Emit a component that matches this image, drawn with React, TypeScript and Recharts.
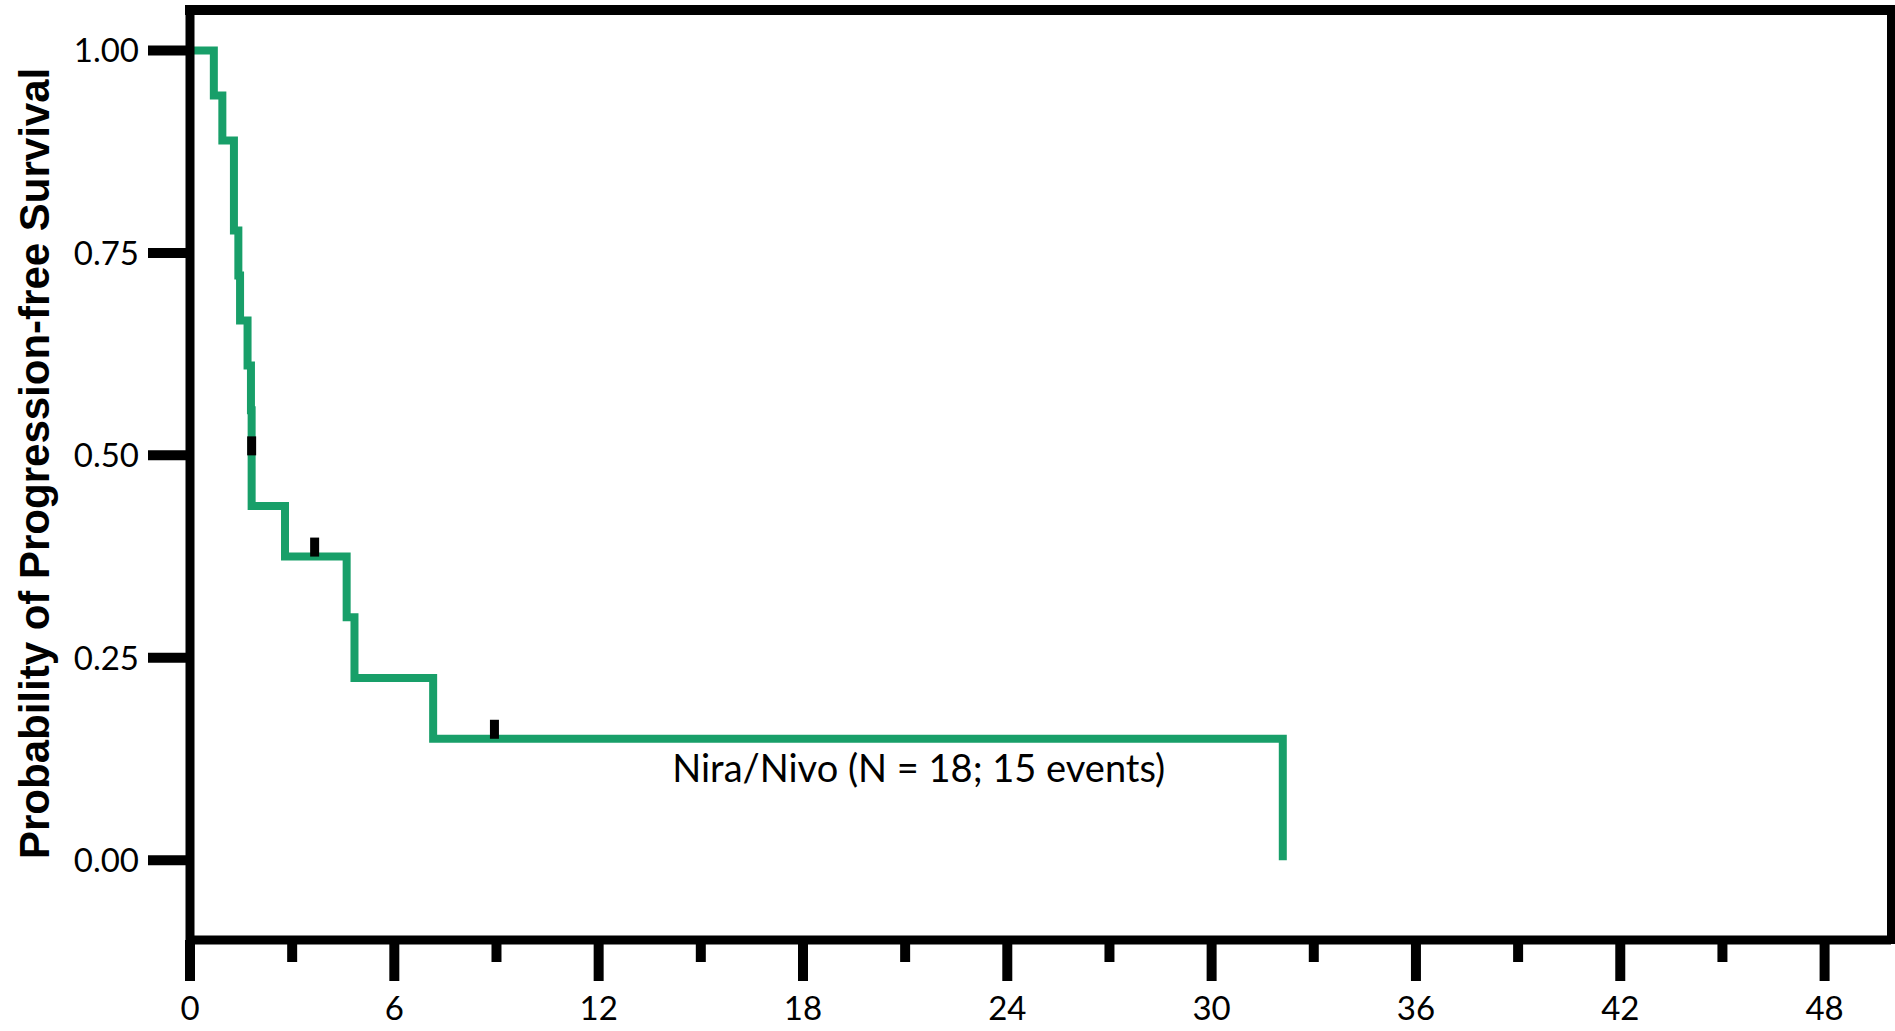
import {
  ComposedChart,
  Line,
  Scatter,
  XAxis,
  YAxis,
  ReferenceLine,
  ReferenceDot,
  Label,
} from 'recharts';

// Kaplan-Meier steps (months, survival probability)
const kmTimes = [0, 0.7, 0.95, 1.29, 1.42, 1.47, 1.69, 1.79, 1.81, 1.81, 2.79, 4.6, 4.83, 7.14, 32.09];
const kmSurvival = [1, 0.9444, 0.8889, 0.7778, 0.7222, 0.6667, 0.6111, 0.5556, 0.5, 0.4375, 0.375, 0.3, 0.225, 0.15, 0];

// censored observations
const censorTimes = [1.81, 3.66, 8.94];
const censorSurvival = [0.5, 0.375, 0.15];

const xTicks = [0, 3, 6, 9, 12, 15, 18, 21, 24, 27, 30, 33, 36, 39, 42, 45, 48];
const yTicks = [0, 0.25, 0.5, 0.75, 1];

const curveLabel = 'Nira/Nivo (N = 18; 15 events)';
const yTitle = 'Probability of Progression-free Survival';

const kmData = kmTimes.map((t, i) => ({ t, s: kmSurvival[i] }));
const censorData = censorTimes.map((t, i) => ({ t, s: censorSurvival[i] }));

const GREEN = '#189f69';
const BODY_FONT = 'Lato, "Open Sans", sans-serif';
const TITLE_FONT = '"Liberation Sans", Arial, sans-serif';

function XTick(props: any) {
  const { x, y, payload } = props;
  const major = payload.value % 6 === 0;
  return (
    <g>
      <line x1={x} x2={x} y1={y} y2={y + (major ? 41 : 22)} stroke="#000" strokeWidth={10} />
      {major && (
        <text x={x} y={y + 80} textAnchor="middle" fontFamily={BODY_FONT} fontSize={33} fill="#000">
          {payload.value}
        </text>
      )}
    </g>
  );
}

function CensorMark(props: any) {
  const { cx, cy } = props;
  if (cx == null || cy == null) return null;
  return <rect x={cx - 4.5} y={cy - 19} width={9} height={19} fill="#000" />;
}

function YTitle(props: any) {
  const vb = props.viewBox || { x: 0, y: 10, width: 190, height: 930 };
  const cx = vb.x + 49;
  const cy = vb.y + vb.height / 2 - 11.6;
  return (
    <text
      x={cx}
      y={cy}
      transform={`rotate(-90 ${cx} ${cy})`}
      textAnchor="middle"
      fontFamily={TITLE_FONT}
      fontWeight="bold"
      fontSize={42}
      fill="#000"
    >
      {yTitle}
    </text>
  );
}

export default function App() {
  return (
    <div style={{ position: 'absolute', left: 0, top: 0, background: '#fff' }}>
      <ComposedChart width={1895} height={1031} margin={{ top: 10, right: 4, bottom: 0, left: 0 }}>
        <XAxis
          dataKey="t"
          type="number"
          domain={[0, 49.95]}
          ticks={xTicks}
          interval={0}
          allowDataOverflow
          height={91}
          tickSize={0}
          tickMargin={0}
          tickLine={false}
          tick={<XTick />}
          axisLine={{ stroke: '#000', strokeWidth: 9 }}
        />
        <YAxis
          type="number"
          domain={[-0.0985, 1.05]}
          ticks={yTicks}
          interval={0}
          allowDataOverflow
          width={190}
          tickSize={42}
          tickMargin={9}
          tickFormatter={(v: number) => v.toFixed(2)}
          tick={{ fill: '#000', fontSize: 33, fontFamily: BODY_FONT }}
          tickLine={{ stroke: '#000', strokeWidth: 10 }}
          axisLine={{ stroke: '#000', strokeWidth: 9 }}
        >
          <Label content={<YTitle />} />
        </YAxis>
        <ReferenceLine y={1.05} stroke="#000" strokeWidth={10} strokeLinecap="square" />
        <ReferenceLine x={49.95} stroke="#000" strokeWidth={8} strokeLinecap="square" />
        <Line
          data={kmData}
          dataKey="s"
          type="stepAfter"
          stroke={GREEN}
          strokeWidth={8}
          dot={false}
          activeDot={false}
          isAnimationActive={false}
        />
        <Scatter data={censorData} dataKey="s" shape={<CensorMark />} isAnimationActive={false} />
        <ReferenceDot
          x={21.4}
          y={0.113}
          r={0}
          fill="none"
          stroke="none"
          label={{
            value: curveLabel,
            position: 'center',
            fill: '#000',
            fontSize: 38,
            fontFamily: BODY_FONT,
          }}
        />
      </ComposedChart>
    </div>
  );
}
